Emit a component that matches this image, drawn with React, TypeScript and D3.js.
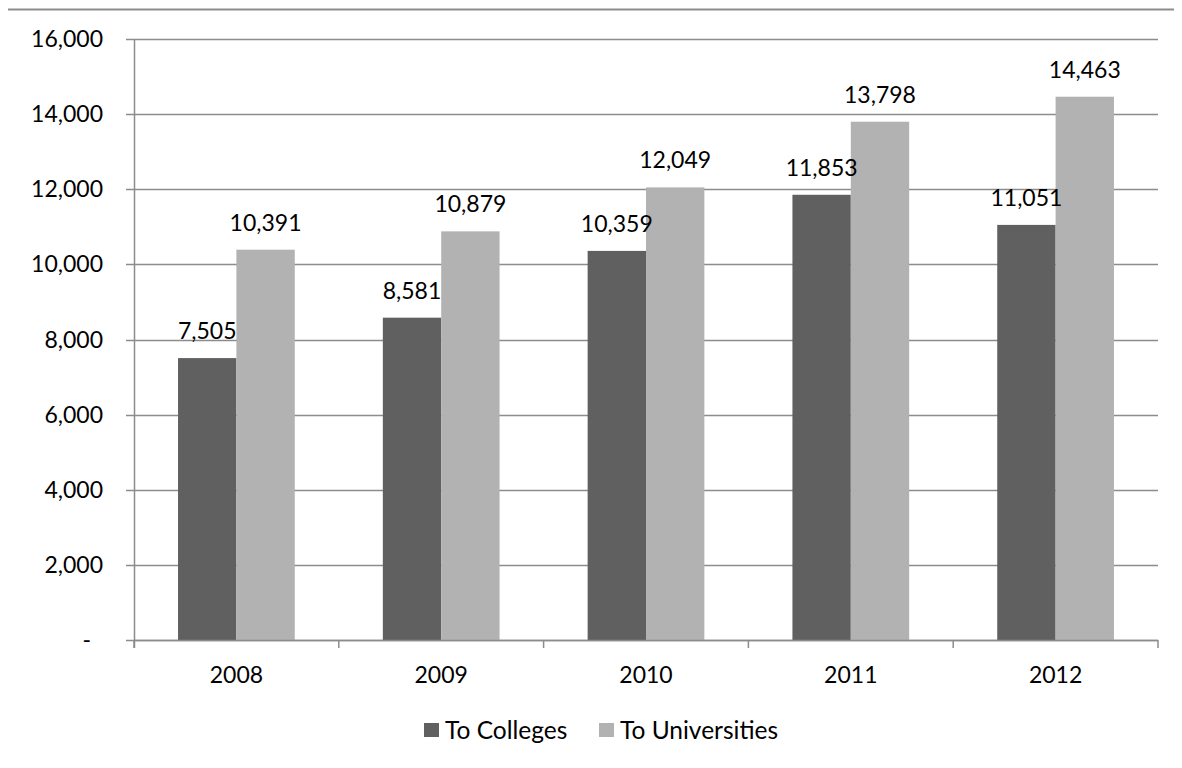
import React, { useEffect, useRef } from 'react';
import * as d3 from 'd3';

const years = ['2008', '2009', '2010', '2011', '2012'];
const colleges = [7505, 8581, 10359, 11853, 11051];
const universities = [10391, 10879, 12049, 13798, 14463];
const seriesNames = ['To Colleges', 'To Universities'];
const yTicks = [0, 2000, 4000, 6000, 8000, 10000, 12000, 14000, 16000];

const colors = ['#606060', '#b2b2b2'];
const FONT = 'Lato, "Open Sans", sans-serif';

export default function App() {
  const svgRef = useRef<SVGSVGElement>(null);

  useEffect(() => {
    if (!svgRef.current) return;
    const width = 1182;
    const height = 768;
    const svg = d3.select(svgRef.current);
    svg.selectAll('*').remove();
    svg.attr('width', width).attr('height', height);

    const margin = { left: 134, right: 24, top: 39, bottom: 128 };
    const innerW = width - margin.left - margin.right;
    const innerH = height - margin.top - margin.bottom;

    // outer chart border (only top and left fall inside the frame)
    svg.append('rect')
      .attr('x', 6.5).attr('y', 9.5)
      .attr('width', width + 10).attr('height', height + 10)
      .attr('fill', 'white')
      .attr('stroke', '#8c8c8c').attr('stroke-width', 2);

    const g = svg.append('g').attr('transform', `translate(${margin.left},${margin.top})`);

    const x0 = d3.scaleBand().domain(years).range([0, innerW]).paddingInner(0.43).paddingOuter(0.215);
    const x1 = d3.scaleBand().domain(seriesNames).range([0, x0.bandwidth()]);
    const y = d3.scaleLinear().domain([0, 16000]).range([innerH, 0]);

    // gridlines + y tick marks
    g.append('g')
      .selectAll('line')
      .data(yTicks)
      .join('line')
      .attr('x1', -8).attr('x2', innerW)
      .attr('y1', d => Math.round(y(d)) + 0.5).attr('y2', d => Math.round(y(d)) + 0.5)
      .attr('stroke', '#8c8c8c').attr('stroke-width', 1.5);

    g.append('g')
      .selectAll('text')
      .data(yTicks)
      .join('text')
      .attr('x', d => (d === 0 ? -43 : -31))
      .attr('y', d => y(d))
      .attr('dy', '0.35em')
      .attr('text-anchor', 'end')
      .attr('font-family', FONT)
      .attr('font-size', 23)
      .attr('fill', '#000')
      .text(d => (d === 0 ? '-' : d3.format(',')(d)));

    // bars
    const data = years.map((yr, i) => ({ yr, vals: [colleges[i], universities[i]] }));
    const groups = g.append('g')
      .selectAll('g')
      .data(data)
      .join('g')
      .attr('transform', d => `translate(${x0(d.yr)},0)`);

    groups.selectAll('rect')
      .data(d => d.vals.map((v, k) => ({ v, k })))
      .join('rect')
      .attr('x', d => x1(seriesNames[d.k])!)
      .attr('y', d => y(d.v))
      .attr('width', x1.bandwidth())
      .attr('height', d => innerH - y(d.v))
      .attr('fill', d => colors[d.k]);

    groups.selectAll('text')
      .data(d => d.vals.map((v, k) => ({ v, k })))
      .join('text')
      .attr('x', d => x1(seriesNames[d.k])! + x1.bandwidth() / 2)
      .attr('y', d => y(d.v) - 19)
      .attr('text-anchor', 'middle')
      .attr('font-family', FONT)
      .attr('font-size', 23)
      .attr('fill', '#000')
      .text(d => d3.format(',')(d.v));

    // axis lines
    g.append('line')
      .attr('x1', 0.5).attr('x2', 0.5).attr('y1', 0).attr('y2', innerH + 8)
      .attr('stroke', '#8c8c8c').attr('stroke-width', 1.5);
    g.append('line')
      .attr('x1', 0).attr('x2', innerW).attr('y1', innerH + 0.5).attr('y2', innerH + 0.5)
      .attr('stroke', '#8c8c8c').attr('stroke-width', 1.5);

    // ticks between categories
    g.append('g')
      .selectAll('line')
      .data(d3.range(years.length + 1))
      .join('line')
      .attr('x1', i => i * x0.step()).attr('x2', i => i * x0.step())
      .attr('y1', innerH).attr('y2', innerH + 8)
      .attr('stroke', '#8c8c8c').attr('stroke-width', 1.5);

    g.append('g')
      .selectAll('text')
      .data(years)
      .join('text')
      .attr('x', d => x0(d)! + x0.bandwidth() / 2)
      .attr('y', innerH + 43)
      .attr('text-anchor', 'middle')
      .attr('font-family', FONT)
      .attr('font-size', 23)
      .attr('fill', '#000')
      .text(d => d);

    // legend
    const legend = svg.append('g').attr('transform', 'translate(424,730)');
    const offsets = [0, 175];
    seriesNames.forEach((name, k) => {
      legend.append('rect')
        .attr('x', offsets[k]).attr('y', -7)
        .attr('width', 15).attr('height', 14)
        .attr('fill', colors[k]);
      legend.append('text')
        .attr('x', offsets[k] + 21).attr('y', 0)
        .attr('dy', '0.35em')
        .attr('font-family', FONT)
        .attr('font-size', 24.5)
        .attr('fill', '#000')
        .text(name);
    });
  }, []);

  return (
    <div style={{ margin: -8 }}>
      <svg ref={svgRef} style={{ display: 'block' }}></svg>
    </div>
  );
}
